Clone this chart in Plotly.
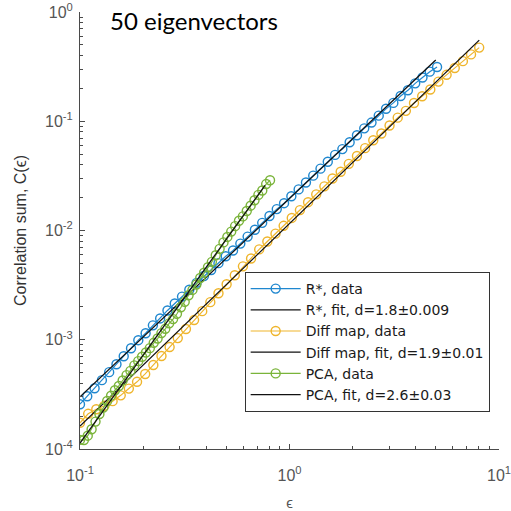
import plotly.graph_objects as go

# Correlation sum C(eps) for three embeddings (50 eigenvectors)
eps_rstar = [0.1, 0.1083, 0.1174, 0.1272, 0.1378, 0.1493, 0.1617, 0.1752, 0.1898, 0.2057,
             0.2228, 0.2413, 0.2615, 0.2833, 0.3069, 0.3325, 0.3602, 0.3903, 0.4228, 0.4581,
             0.4963, 0.5377, 0.5825, 0.6311, 0.6837, 0.7408, 0.8026, 0.8695, 0.9420, 1.0206,
             1.1057, 1.198, 1.298, 1.406, 1.523, 1.650, 1.788, 1.937, 2.099, 2.274,
             2.463, 2.667, 2.890, 3.131, 3.392, 3.675, 3.981, 4.313, 4.673, 5.062]
c_rstar = [2.57e-4, 3.04e-4, 3.60e-4, 4.27e-4, 5.05e-4, 5.97e-4, 7.06e-4, 8.36e-4, 9.91e-4, 1.146e-3,
           1.355e-3, 1.567e-3, 1.854e-3, 2.148e-3, 2.483e-3, 2.871e-3, 3.319e-3, 3.837e-3, 4.345e-3, 5.023e-3,
           5.808e-3, 6.561e-3, 7.586e-3, 8.79e-3, 1.016e-2, 1.175e-2, 1.358e-2, 1.570e-2, 1.778e-2, 2.056e-2,
           2.377e-2, 2.748e-2, 3.177e-2, 3.681e-2, 4.256e-2, 4.920e-2, 5.559e-2, 6.427e-2, 7.447e-2, 8.610e-2,
           9.727e-2, 0.1125, 0.1300, 0.1472, 0.1702, 0.1923, 0.2223, 0.2512, 0.2844, 0.3141]

eps_diff = [0.1, 0.1094, 0.1196, 0.1308, 0.1431, 0.1565, 0.1711, 0.1872, 0.2047, 0.2239,
            0.2449, 0.2678, 0.2929, 0.3204, 0.3504, 0.3832, 0.4189, 0.4582, 0.5011, 0.5481,
            0.5994, 0.6555, 0.7167, 0.7839, 0.8573, 0.9376, 1.0253, 1.1214, 1.2265, 1.3414,
            1.4671, 1.6046, 1.7549, 1.9193, 2.0991, 2.2958, 2.5110, 2.7462, 3.0035, 3.2849,
            3.5927, 3.9293, 4.2975, 4.7001, 5.1405, 5.6222, 6.1490, 6.7251, 7.3552, 8.0444]
c_diff = [1.738e-4, 2.099e-4, 2.312e-4, 2.489e-4, 2.742e-4, 3.097e-4, 3.573e-4, 4.121e-4, 4.864e-4, 5.875e-4,
          7.096e-4, 8.570e-4, 1.035e-3, 1.253e-3, 1.514e-3, 1.828e-3, 2.208e-3, 2.667e-3, 3.221e-3, 3.890e-3,
          4.699e-3, 5.546e-3, 6.714e-3, 7.925e-3, 9.354e-3, 1.104e-2, 1.303e-2, 1.538e-2, 1.816e-2, 2.143e-2,
          2.535e-2, 2.992e-2, 3.451e-2, 4.074e-2, 4.808e-2, 5.675e-2, 6.699e-2, 7.727e-2, 9.141e-2, 0.1079,
          0.1245, 0.1469, 0.1694, 0.1954, 0.2307, 0.2661, 0.3069, 0.3548, 0.4093, 0.4721]

eps_pca = [0.1, 0.1044, 0.1089, 0.1136, 0.1186, 0.1238, 0.1292, 0.1348, 0.1407, 0.1468,
           0.1532, 0.1598, 0.1668, 0.1741, 0.1817, 0.1896, 0.1978, 0.2064, 0.2154, 0.2248,
           0.2346, 0.2447, 0.2554, 0.2665, 0.2781, 0.2902, 0.3029, 0.3161, 0.3298, 0.3442,
           0.3592, 0.3748, 0.3911, 0.4082, 0.4260, 0.4445, 0.4639, 0.4841, 0.5051, 0.5271,
           0.5501, 0.5740, 0.5990, 0.6251, 0.6524, 0.6808, 0.7104, 0.7414, 0.7737, 0.8074]
c_pca = [1.211e-4, 1.208e-4, 1.324e-4, 1.517e-4, 1.782e-4, 2.089e-4, 2.393e-4, 2.748e-4, 3.076e-4, 3.451e-4,
         3.776e-4, 4.236e-4, 4.742e-4, 5.188e-4, 5.821e-4, 6.368e-4, 6.982e-4, 7.638e-4, 8.375e-4, 9.376e-4,
         1.026e-3, 1.151e-3, 1.259e-3, 1.413e-3, 1.545e-3, 1.730e-3, 1.986e-3, 2.223e-3, 2.553e-3, 2.858e-3,
         3.206e-3, 3.673e-3, 4.111e-3, 4.613e-3, 5.164e-3, 5.929e-3, 6.792e-3, 7.780e-3, 8.730e-3, 9.772e-3,
         1.096e-2, 1.227e-2, 1.346e-2, 1.507e-2, 1.687e-2, 1.892e-2, 2.118e-2, 2.323e-2, 2.661e-2, 2.884e-2]

# Power-law fit lines (end points)
fit_rstar_x = [0.1, 4.99]
fit_rstar_y = [3.0e-4, 0.363]
fit_diff_x = [0.1, 8.05]
fit_diff_y = [1.62e-4, 0.553]
fit_pca_x = [0.1, 0.764]
fit_pca_y = [1.13e-4, 0.0259]

names = ["R*, data", "R*, fit, d=1.8\u00b10.009",
         "Diff map, data", "Diff map, fit, d=1.9\u00b10.01",
         "PCA, data", "PCA, fit, d=2.6\u00b10.03"]

x_tickvals = [0.1, 1, 10]
x_ticktext = ["10<sup>-1</sup>", "10<sup>0</sup>", "10<sup>1</sup>"]
y_tickvals = [1e-4, 1e-3, 1e-2, 1e-1, 1]
y_ticktext = ["10<sup>-4</sup>", "10<sup>-3</sup>", "10<sup>-2</sup>", "10<sup>-1</sup>", "10<sup>0</sup>"]

BLUE = "#1f87cf"
ORANGE = "#efb52c"
GREEN = "#7ab43a"
FIT = "#111111"

fig = go.Figure()


def add_data(x, y, color, name):
    fig.add_trace(go.Scatter(
        x=x, y=y, mode="lines+markers", name=name,
        line=dict(color=color, width=1.2),
        marker=dict(symbol="circle-open", size=9, color=color, line=dict(width=1.4, color=color)),
    ))


def add_fit(x, y, name):
    fig.add_trace(go.Scatter(
        x=x, y=y, mode="lines", name=name,
        line=dict(color=FIT, width=1.3),
    ))


add_data(eps_rstar, c_rstar, BLUE, names[0])
add_fit(fit_rstar_x, fit_rstar_y, names[1])
add_data(eps_diff, c_diff, ORANGE, names[2])
add_fit(fit_diff_x, fit_diff_y, names[3])
add_data(eps_pca, c_pca, GREEN, names[4])
add_fit(fit_pca_x, fit_pca_y, names[5])

axis_color = "#4a4a4a"
sans = "Liberation Sans, Arial, sans-serif"
tick_font = dict(family=sans, size=16, color="#555555")
minor_x = [k * 10.0 ** e for e in (-1, 0) for k in range(2, 10)]
minor_y = [k * 10.0 ** e for e in (-4, -3, -2, -1) for k in range(2, 10)]

fig.update_xaxes(
    type="log", range=[-1, 1], automargin=False, ticklabeloverflow="allow",
    tickmode="array", tickvals=x_tickvals, ticktext=x_ticktext,
    showline=True, linecolor=axis_color, linewidth=1, mirror=False,
    ticks="inside", ticklen=5, tickcolor=axis_color,
    minor=dict(tickmode="array", tickvals=minor_x, ticks="inside", ticklen=3,
               tickcolor=axis_color, showgrid=False),
    showgrid=False, zeroline=False, tickfont=tick_font, ticklabelstandoff=12,
    title=dict(text="\u03f5", font=dict(family=sans, size=15, color="#555555"),
               standoff=15),
)
fig.update_yaxes(
    type="log", range=[-4, 0], automargin=False, ticklabeloverflow="allow",
    tickmode="array", tickvals=y_tickvals, ticktext=y_ticktext,
    showline=True, linecolor=axis_color, linewidth=1, mirror=False,
    ticks="inside", ticklen=5, tickcolor=axis_color,
    minor=dict(tickmode="array", tickvals=minor_y, ticks="inside", ticklen=3,
               tickcolor=axis_color, showgrid=False),
    showgrid=False, zeroline=False, tickfont=tick_font, ticklabelstandoff=3,
    title=dict(text="Correlation sum, C(\u03f5)",
               font=dict(family=sans, size=16, color="#333333"),
               standoff=14),
)

fig.update_layout(
    width=511, height=511,
    margin=dict(l=80, r=12, t=12, b=62),
    paper_bgcolor="white", plot_bgcolor="white",
    title=dict(text="50 eigenvectors", x=110 / 511, xanchor="left",
               y=1 - 22 / 511, yanchor="middle",
               font=dict(family="Lato, Carlito, sans-serif", size=24, color="#000000")),
    legend=dict(
        x=0.393, y=0.405, xanchor="left", yanchor="top",
        bgcolor="white", bordercolor="#333333", borderwidth=1,
        font=dict(family="DejaVu Sans, sans-serif", size=14, color="#1a1a1a"),
        tracegroupgap=0, itemwidth=50,
    ),
    showlegend=True,
)

fig.write_html("out.html")
